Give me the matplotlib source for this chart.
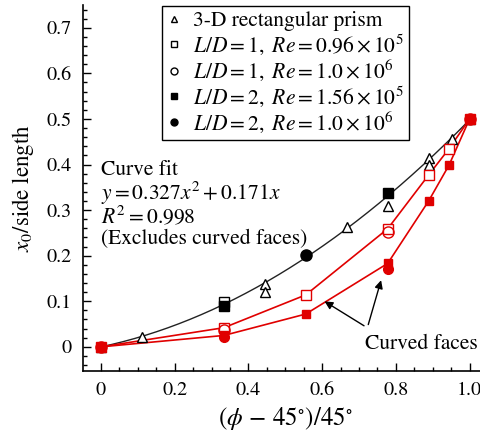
import numpy as np
import matplotlib
matplotlib.use("Agg")
import matplotlib.pyplot as plt
from matplotlib.lines import Line2D
from matplotlib.ticker import MultipleLocator

plt.rcParams["font.family"] = ["STIXGeneral", "DejaVu Serif"]
plt.rcParams["mathtext.fontset"] = "stix"
plt.rcParams["font.size"] = 14

RED = "#e00000"

# 3-D rectangular prism
prism_x = [0, 1/9, 4/9, 4/9, 2/3, 7/9, 8/9, 8/9, 0.952, 1.0]
prism_y = [0, 0.022, 0.138, 0.120, 0.263, 0.309, 0.414, 0.399, 0.457, 0.5]

# L/D = 1, Re = 0.96e5 (curved faces: red, flat faces: black)
ld1_lo_red_x = [0, 1/3, 5/9, 7/9, 8/9, 17/18, 1.0]
ld1_lo_red_y = [0, 0.042, 0.114, 0.259, 0.377, 0.435, 0.5]
ld1_lo_blk_x = [1/3]
ld1_lo_blk_y = [0.099]

# L/D = 1, Re = 1.0e6
ld1_hi_red_x = [0, 1/3, 7/9, 1.0]
ld1_hi_red_y = [0, 0.036, 0.252, 0.5]

# L/D = 2, Re = 1.56e5
ld2_lo_red_x = [0, 1/3, 5/9, 7/9, 8/9, 17/18, 1.0]
ld2_lo_red_y = [0, 0.025, 0.072, 0.183, 0.320, 0.399, 0.5]
ld2_lo_blk_x = [1/3, 7/9]
ld2_lo_blk_y = [0.090, 0.338]

# L/D = 2, Re = 1.0e6
ld2_hi_red_x = [0, 1/3, 7/9, 1.0]
ld2_hi_red_y = [0, 0.022, 0.170, 0.5]
ld2_hi_blk_x = [5/9]
ld2_hi_blk_y = [0.202]

# quadratic fit through the flat-face data
fit_a, fit_b = 0.327, 0.171

legend_labels = [
    "3-D rectangular prism",
    r"$L/D = 1,\ Re = 0.96\times10^5$",
    r"$L/D = 1,\ Re = 1.0\times10^6$",
    r"$L/D = 2,\ Re = 1.56\times10^5$",
    r"$L/D = 2,\ Re = 1.0\times10^6$",
]

fig = plt.figure(figsize=(4.8, 4.34), dpi=100)
ax = fig.add_axes([83/480, 1 - 371/434, (488 - 83)/480, (371 - 5)/434])

xf = np.linspace(0, 1, 200)
ax.plot(xf, fit_a * xf**2 + fit_b * xf, color="#222222", lw=1.0, zorder=2)

ax.plot(ld1_lo_red_x, ld1_lo_red_y, color=RED, lw=1.2, zorder=2)
ax.plot(ld2_lo_red_x, ld2_lo_red_y, color=RED, lw=1.2, zorder=2)

ms = 7
ax.plot(prism_x, prism_y, ls="none", marker="^", ms=ms, mfc="white",
        mec="black", mew=1.0, zorder=3)
ax.plot(ld1_lo_blk_x, ld1_lo_blk_y, ls="none", marker="s", ms=ms, mfc="white",
        mec="black", mew=1.0, zorder=3)
ax.plot(ld2_lo_blk_x, ld2_lo_blk_y, ls="none", marker="s", ms=ms, mfc="black",
        mec="black", zorder=4)
ax.plot(ld2_hi_blk_x, ld2_hi_blk_y, ls="none", marker="o", ms=ms + 1, mfc="black",
        mec="black", zorder=4)

ax.plot(ld1_lo_red_x, ld1_lo_red_y, ls="none", marker="s", ms=ms, mfc="white",
        mec=RED, mew=1.0, zorder=3)
ax.plot(ld1_hi_red_x, ld1_hi_red_y, ls="none", marker="o", ms=ms + 1, mfc="none",
        mec=RED, mew=1.0, zorder=3)
ax.plot(ld2_lo_red_x, ld2_lo_red_y, ls="none", marker="s", ms=ms - 1, mfc=RED,
        mec=RED, zorder=4)
ax.plot(ld2_hi_red_x, ld2_hi_red_y, ls="none", marker="o", ms=ms, mfc=RED,
        mec=RED, zorder=4)

ax.set_xlim(-0.049, 1.05)
ax.set_ylim(-0.053, 0.75)
ax.xaxis.set_minor_locator(MultipleLocator(0.05))
ax.yaxis.set_minor_locator(MultipleLocator(0.02))
ax.set_xticks([0, 0.2, 0.4, 0.6, 0.8, 1.0])
ax.set_xticklabels(["0", "0.2", "0.4", "0.6", "0.8", "1.0"])
ax.set_yticks([0, 0.1, 0.2, 0.3, 0.4, 0.5, 0.6, 0.7])
ax.set_yticklabels(["0", "0.1", "0.2", "0.3", "0.4", "0.5", "0.6", "0.7"])
ax.tick_params(which="both", direction="in", top=False, right=False,
               labelsize=14.5, width=1.0)
ax.tick_params(which="major", length=6, pad=8)
ax.tick_params(which="minor", length=3)
ax.spines["top"].set_visible(False)
ax.spines["right"].set_visible(False)
ax.spines["left"].set_linewidth(1.2)
ax.spines["bottom"].set_linewidth(1.2)

ax.set_xlabel(r"$(\phi\, -\, 45^{\circ})/45^{\circ}$", fontsize=18, labelpad=4)
ax.set_ylabel(r"$x_0$/side length", fontsize=16.5, labelpad=8)

tx = 0.0
fs = 15.5
ax.text(tx, 0.388, "Curve fit", fontsize=fs, va="center", ha="left")
ax.text(tx, 0.336, r"$y = 0.327x^2 + 0.171x$", fontsize=fs, va="center", ha="left")
ax.text(tx, 0.285, r"$R^2 = 0.998$", fontsize=fs, va="center", ha="left")
ax.text(tx, 0.235, "(Excludes curved faces)", fontsize=fs, va="center", ha="left")

ax.text(0.715, 0.007, "Curved faces", fontsize=fs, va="center", ha="left")
arrow_kw = dict(arrowstyle="-|>", color="black", lw=1.0, mutation_scale=12)
ax.annotate("", xy=(0.60, 0.103), xytext=(0.72, 0.043), arrowprops=arrow_kw)
ax.annotate("", xy=(0.762, 0.152), xytext=(0.723, 0.043), arrowprops=arrow_kw)

handles = [
    Line2D([], [], ls="none", marker="^", ms=5, mfc="white", mec="black"),
    Line2D([], [], ls="none", marker="s", ms=5, mfc="white", mec="black"),
    Line2D([], [], ls="none", marker="o", ms=5, mfc="white", mec="black"),
    Line2D([], [], ls="none", marker="s", ms=5, mfc="black", mec="black"),
    Line2D([], [], ls="none", marker="o", ms=5, mfc="black", mec="black"),
]
leg = ax.legend(handles, legend_labels, loc="upper left",
                bbox_to_anchor=(0.195, 0.998), borderaxespad=0,
                fancybox=False, framealpha=1, edgecolor="black",
                fontsize=15.5, handlelength=0.6, handletextpad=0.6,
                labelspacing=0.05, borderpad=0.25)
leg.get_frame().set_linewidth(1.0)

fig.savefig("out.png", dpi=100)
